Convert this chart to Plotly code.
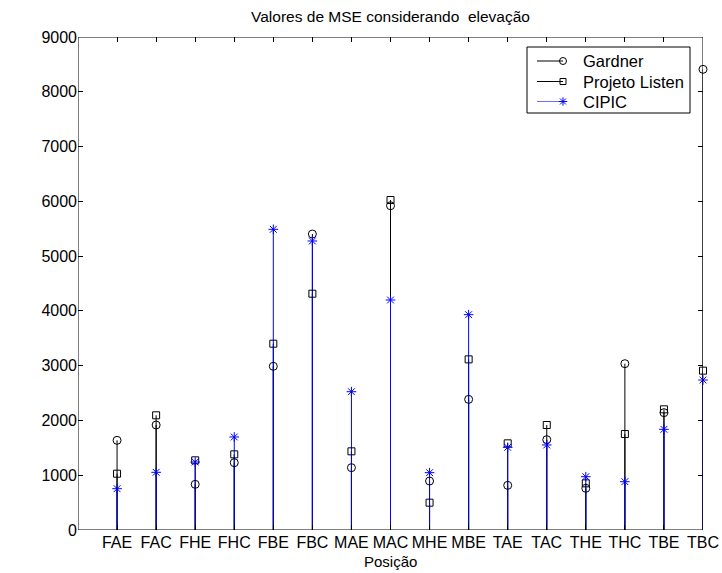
import plotly.graph_objects as go

categories = ["FAE", "FAC", "FHE", "FHC", "FBE", "FBC", "MAE", "MAC",
              "MHE", "MBE", "TAE", "TAC", "THE", "THC", "TBE", "TBC"]
gardner = [1637, 1917, 834, 1229, 2988, 5403, 1138, 5920,
           894, 2385, 815, 1649, 761, 3036, 2142, 8410]
listen = [1028, 2094, 1272, 1381, 3401, 4314, 1436, 6024,
          499, 3115, 1582, 1917, 852, 1752, 2203, 2909]
cipic = [754, 1053, 1241, 1698, 5489, 5276, 2525, 4199,
         1047, 3931, 1509, 1552, 973, 882, 1838, 2738]
yticks = [0, 1000, 2000, 3000, 4000, 5000, 6000, 7000, 8000, 9000]

xpos = list(range(1, len(categories) + 1))
FONT = "Liberation Sans, Arial, Helvetica, sans-serif"
BLUE = "#0000ff"
XMAX, YMAX = 16, 9000

def stems(vals):
    xs, ys = [], []
    for x, v in zip(xpos, vals):
        xs += [x, x, None]
        ys += [0, v, None]
    return xs, ys

series = [
    ("Gardner", gardner, "black", "circle-open", 8),
    ("Projeto Listen", listen, "black", "square-open", 7),
    ("CIPIC", cipic, BLUE, "asterisk-open", 8),
]

fig = go.Figure()
for name, vals, col, sym, sz in series:
    sx, sy = stems(vals)
    fig.add_trace(go.Scatter(x=sx, y=sy, mode="lines",
                             line=dict(color=col, width=1),
                             showlegend=False, hoverinfo="skip"))
for name, vals, col, sym, sz in series:
    fig.add_trace(go.Scatter(x=xpos, y=vals, mode="markers", name=name,
                             cliponaxis=False,
                             marker=dict(symbol=sym, size=sz, color=col,
                                         line=dict(color=col, width=1)),
                             showlegend=False))

L, R, T, B = 78, 703, 37, 530
W, H = 722, 573
# legend layout helpers: pixel position -> axis units
def dx(p):
    return (p - L) / (R - L) * XMAX
def dy(p):
    return (B - p) / (B - T) * YMAX
def py(p):
    return (B - p) / (B - T)

# plot frame tied to the axis ranges
fig.add_shape(type="rect", xref="x", yref="y", x0=0, x1=XMAX, y0=0, y1=YMAX,
              line=dict(color="black", width=1), layer="above")

# custom MATLAB-style legend
fig.add_shape(type="rect", xref="x", yref="y",
              x0=dx(527), x1=dx(690), y0=dy(113), y1=dy(47),
              line=dict(color="black", width=1), fillcolor="white", layer="below")
rows = [61, 81.5, 101.5]
for (name, vals, col, sym, sz), ry in zip(series, rows):
    fig.add_shape(type="line", xref="x", yref="y",
                  x0=dx(537), x1=dx(563), y0=dy(ry), y1=dy(ry),
                  line=dict(color=col if col != BLUE else "#6f6fff", width=1), layer="below")
    fig.add_trace(go.Scatter(x=[dx(563)], y=[dy(ry)], mode="markers",
                             showlegend=False, hoverinfo="skip", cliponaxis=False,
                             marker=dict(symbol=sym, size=sz - 1, color=col,
                                         line=dict(color=col, width=1))))
    fig.add_annotation(x=dx(583), y=dy(ry), xref="x", yref="y",
                       text=name, showarrow=False, xanchor="left", yanchor="middle",
                       xshift=-2,
                       font=dict(family=FONT, size=16.5, color="black"))

# axis titles placed like MATLAB
fig.add_annotation(x=dx(22), y=dy(283.5), xref="x", yref="y",
                   text="MSE", showarrow=False, textangle=-90,
                   xanchor="center", yanchor="middle",
                   font=dict(family=FONT, size=15, color="black"))
fig.add_annotation(x=XMAX / 2, y=py(561), xref="x", yref="paper",
                   text="Posição", showarrow=False,
                   xanchor="center", yanchor="middle",
                   font=dict(family=FONT, size=15, color="black"))

fig.update_layout(
    width=W, height=H, autosize=False,
    margin=dict(l=L, r=W - R, t=T, b=H - B, autoexpand=False),
    paper_bgcolor="white", plot_bgcolor="white",
    showlegend=False,
    title=dict(text="Valores de MSE considerando  elevação", x=(L + R) / 2 / W,
               xanchor="center", y=1 - 17 / H, yanchor="middle", yref="container",
               font=dict(family=FONT, size=15.5, color="black")),
    font=dict(family=FONT, size=15, color="black"),
    xaxis=dict(range=[0, XMAX], tickvals=xpos, ticktext=categories,
               ticks="inside", ticklen=5, tickcolor="black", showgrid=False,
               zeroline=False, showline=False, mirror="ticks",
               ticklabelstandoff=1, automargin=False,
               tickfont=dict(family=FONT, size=16)),
    yaxis=dict(range=[0, YMAX], tickvals=yticks, ticks="inside", ticklen=5,
               tickcolor="black", showgrid=False, zeroline=False, showline=False,
               mirror="ticks", automargin=False,
               tickfont=dict(family=FONT, size=16)),
)

fig.write_html("out.html")
